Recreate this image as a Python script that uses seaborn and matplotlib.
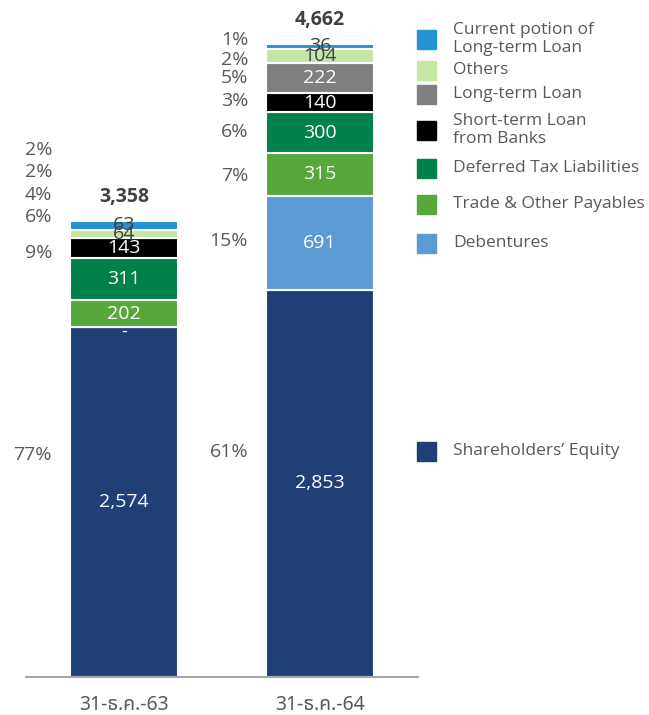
import matplotlib
matplotlib.use("Agg")
import matplotlib.pyplot as plt
import matplotlib.patches as mpatches
import seaborn as sns
import numpy as np

# ---------------- data ----------------
dates = ["31-ธ.ค.-63", "31-ธ.ค.-64"]
series = ["Shareholders’ Equity", "Debentures", "Trade & Other Payables",
          "Deferred Tax Liabilities", "Short-term Loan\nfrom Banks", "Long-term Loan",
          "Others", "Current potion of\nLong-term Loan"]
equity = [2574, 2853]
debentures = [0, 691]
trade_payables = [202, 315]
deferred_tax = [311, 300]
short_term_loan = [143, 140]
long_term_loan = [np.nan, 222]
others = [64, 104]
current_ltl = [63, 36]
totals = [3358, 4662]

values = [equity, debentures, trade_payables, deferred_tax,
          short_term_loan, long_term_loan, others, current_ltl]
colors = ["#1F3F77", "#5B9BD5", "#57A83B", "#00804A", "#000000",
          "#7F7F7F", "#C5E5A5", "#2394D1"]
value_text_colors = ["white", "white", "white", "white", "white",
                     "white", "#404040", "#404040"]

# layout (pixel rows) of percentage labels and legend entries
pct_rows = [[455, None, 217, 253, 195, None, 172, 150],
            [452, 241, 176, 132, 101, 78, 60, 40]]
legend_rows = [451, 243, 204, 168, 130, 94, 70, 39]

W, H = 649, 715
gray = "#595959"
font = ["Open Sans", "Noto Sans Thai", "DejaVu Sans"]

sns.set_theme(style="white")
plt.rcParams["font.family"] = font

fig = plt.figure(figsize=(W / 100, H / 100), dpi=100)
ax = fig.add_axes([26 / W, 1 - 677 / H, 392 / W, 677 / H])

bottoms = np.zeros(2)
for vals, col in zip(values, colors):
    v = np.nan_to_num(np.array(vals, dtype=float))
    sns.barplot(x=dates, y=v, bottom=bottoms, color=col, width=0.55,
                edgecolor="white", linewidth=1.5, errorbar=None, ax=ax,
                saturation=1)
    bottoms = bottoms + v

ax.set_xlim(-0.5, 1.5)
ax.set_ylim(0, 4985)
ax.set_xlabel("")
ax.set_ylabel("")
ax.set_yticks([])
for s in ["top", "left", "right"]:
    ax.spines[s].set_visible(False)
ax.spines["bottom"].set_color("#A6A6A6")
ax.spines["bottom"].set_linewidth(1.5)
ax.tick_params(axis="x", length=0, pad=13, labelsize=14, labelcolor=gray)
for lab in ax.get_xticklabels():
    lab.set_family(["Noto Sans Thai", "Open Sans", "DejaVu Sans"])

# value labels inside the bars
bottoms = np.zeros(2)
for k, (vals, tc) in enumerate(zip(values, value_text_colors)):
    v = np.array(vals, dtype=float)
    for i in range(2):
        if np.isnan(v[i]):
            continue
        yc = bottoms[i] + v[i] / 2
        if v[i] == 0:
            ax.annotate("-", (i, yc), xytext=(0, -3), textcoords="offset points",
                        ha="center", va="center", fontsize=13, color=tc)
        else:
            ax.text(i, yc, f"{int(v[i]):,}", ha="center", va="center",
                    fontsize=14, color=tc)
    bottoms = bottoms + np.nan_to_num(v)

# totals
for i, t in enumerate(totals):
    ax.annotate(f"{t:,}", (i, t), xytext=(0, 17), textcoords="offset points",
                ha="center", va="center", fontsize=14, fontweight="bold", color="#404040")

# percentage labels
for i in range(2):
    for k, vals in enumerate(values):
        v = vals[i]
        row = pct_rows[i][k]
        if row is None or np.isnan(v) or v == 0:
            continue
        pct = round(v / totals[i] * 100)
        xpix = ax.transData.transform((i - 0.275, 0))[0] - 18
        fig.text(xpix / W, 1 - row / H, f"{pct}%", ha="right", va="center",
                 fontsize=14, color=gray)

# legend
for name, col, row in zip(series, colors, legend_rows):
    sq = legend_rows[0] if False else row
    fig.patches.append(mpatches.Rectangle((417 / W, 1 - (sq + 10) / H), 19 / W, 19 / H,
                                          transform=fig.transFigure, color=col))
    fig.text(453 / W, 1 - row / H, name, ha="left", va="center", fontsize=12.5,
             color=gray, linespacing=1.2)

fig.savefig("out.png", dpi=100)
